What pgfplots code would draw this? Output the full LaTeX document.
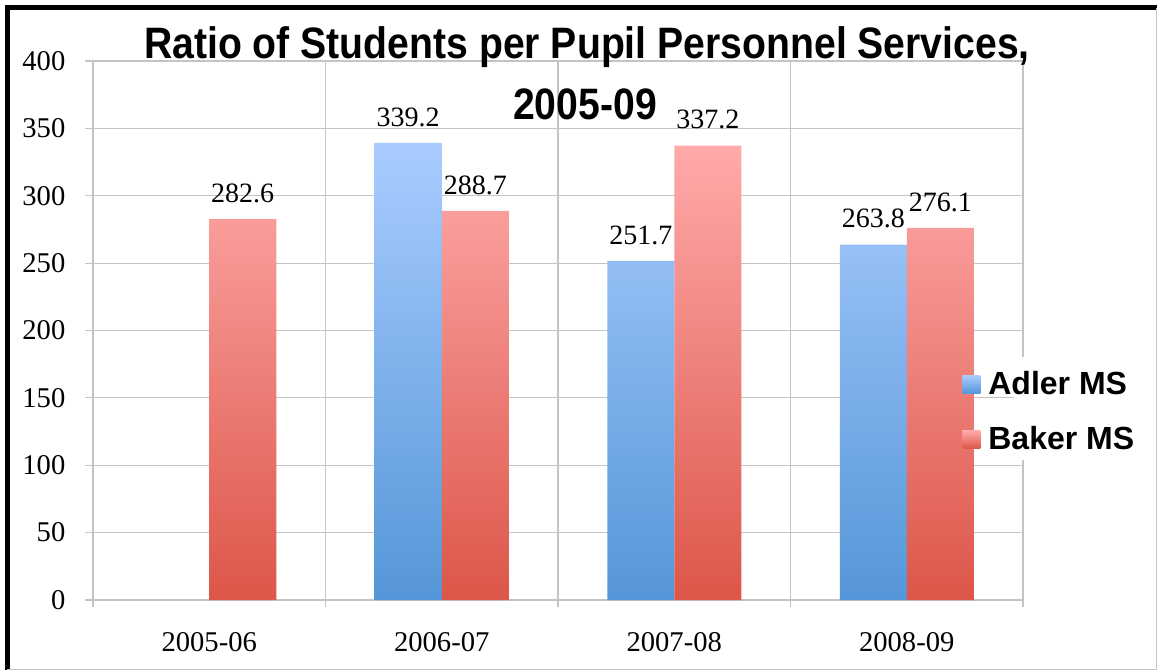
\documentclass[border=0pt]{standalone}
\usepackage{pgfplots}
\pgfplotsset{compat=1.18}
\usepackage{fontspec}
\setmainfont{Liberation Serif}
\newfontfamily\titlefont[FakeStretch=0.89]{Liberation Sans}
\newfontfamily\legfont{Liberation Sans}
\definecolor{bluetop}{HTML}{A9CCFF}
\definecolor{bluebot}{HTML}{5596D8}
\definecolor{redtop}{HTML}{FFAAAA}
\definecolor{redbot}{HTML}{DC5649}
\definecolor{gridgray}{HTML}{C4C4C4}
\begin{document}
\begin{tikzpicture}
\useasboundingbox (-46.5pt,-35pt) rectangle (532pt,300pt);
\begin{axis}[
  at={(0pt,0pt)}, anchor=south west,
  scale only axis, width=465pt, height=269.5pt,
  ymin=0, ymax=400, ytick={0,50,...,400},
  xmin=-0.5, xmax=3.5,
  xtick={0,1,2,3}, xticklabels={2005-06,2006-07,2007-08,2008-09},
  minor xtick={-0.5,0.5,1.5,2.5,3.5},
  xminorgrids, ymajorgrids,
  grid style={draw=gridgray, line width=0.6pt},
  minor grid style={draw=gridgray, line width=0.6pt},
  axis line style={draw=gridgray, line width=0.6pt},
  major x tick style={draw=none},
  minor x tick style={draw=gridgray, line width=0.6pt},
  y tick style={draw=gridgray, line width=0.6pt},
  tick align=outside, xtick pos=bottom, ytick pos=left,
  major tick length=4pt, minor tick length=3.5pt,
  ybar=0pt, bar width=33.5pt,
  clip=false,
  /pgf/number format/assume math mode=true,
  ticklabel style={font=\fontsize{14.3}{16}\selectfont},
  yticklabel style={xshift=-6.3pt},
  xticklabel style={yshift=-8.8pt},
  nodes near coords,
  nodes near coords style={font=\fontsize{14}{16}\selectfont, text=black, anchor=south, inner sep=0pt, yshift=8pt},
  legend style={at={(0.9344,0.3488)}, anchor=west, draw=none, fill=none,
    inner sep=0pt, row sep=14.5pt, column sep=4pt,
    nodes={inner sep=0pt},
    font=\legfont\bfseries\fontsize{16}{18}\selectfont},
  legend cell align=left,
]
\addplot[draw=none, shading=axis, top color=bluetop, bottom color=bluebot,
  legend image code/.code={\path[draw=none, top color=bluetop, bottom color=bluebot] (0pt,-4.5pt) rectangle (9pt,4.5pt);}]
  coordinates {(1,339.2) (2,251.7) (3,263.8)};
\addplot[draw=none, shading=axis, top color=redtop, bottom color=redbot,
  legend image code/.code={\path[draw=none, top color=redtop, bottom color=redbot] (0pt,-4.5pt) rectangle (9pt,4.5pt);}]
  coordinates {(0,282.6) (1,288.7) (2,337.2) (3,276.1)};
\fill[white] (rel axis cs:0.99,0.26) rectangle (rel axis cs:1.01,0.451);
\legend{Adler MS, Baker MS}
\end{axis}
\node[anchor=base, font=\titlefont\bfseries\fontsize{22}{26}\selectfont] at (247pt,270.5pt) {Ratio of Students per Pupil Personnel Services,};
\node[anchor=base, font=\titlefont\bfseries\fontsize{22}{26}\selectfont] at (246pt,240pt) {2005-09};
\draw[black, line width=2.5pt] (-42.75pt,-35pt) -- (-42.75pt,296.25pt) -- (532pt,296.25pt);
\draw[gridgray, line width=0.6pt] (531.6pt,296pt) -- (531.6pt,-34.6pt) -- (-42.75pt,-34.6pt);
\end{tikzpicture}
\end{document}
